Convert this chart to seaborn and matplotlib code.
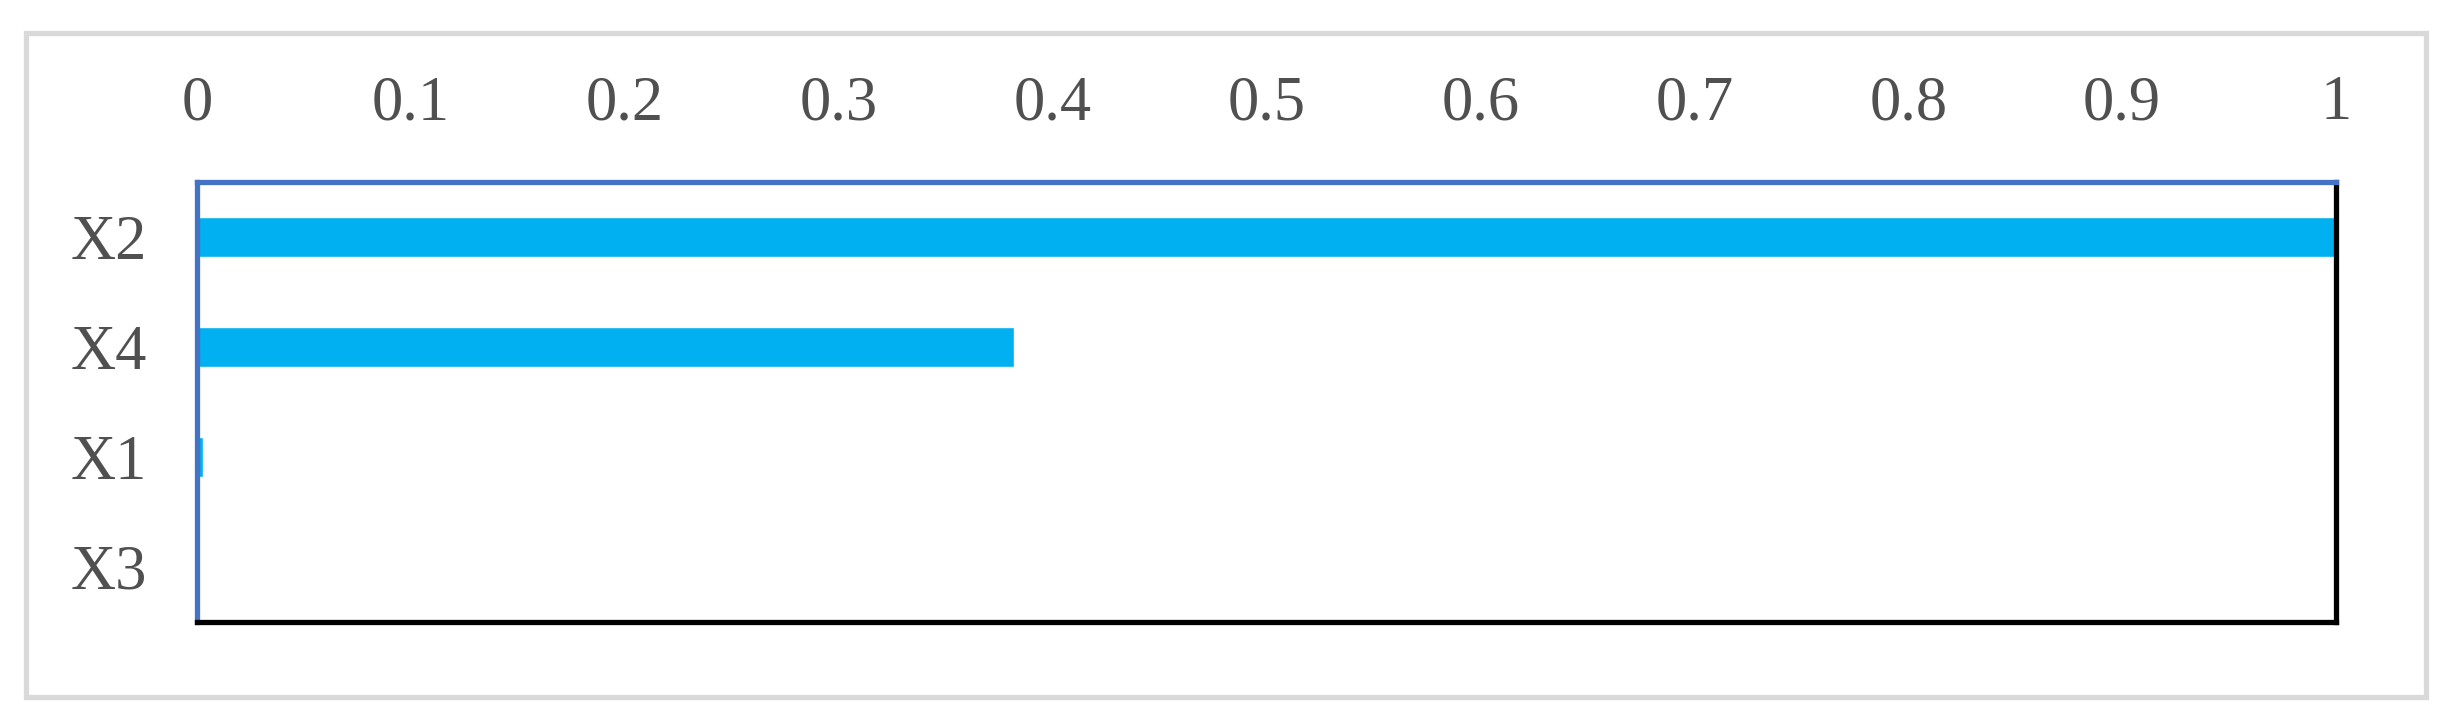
import matplotlib
matplotlib.use("Agg")
import matplotlib.pyplot as plt
from matplotlib.patches import Rectangle
import pandas as pd
import seaborn as sns

# values
features = ["X2", "X4", "X1", "X3"]
importance = [1.0, 0.382, 0.003, 0.0]
x_ticks = [0, 0.1, 0.2, 0.3, 0.4, 0.5, 0.6, 0.7, 0.8, 0.9, 1]
x_tick_labels = ["0", "0.1", "0.2", "0.3", "0.4", "0.5", "0.6", "0.7", "0.8", "0.9", "1"]

bar_color = "#00B0F0"
text_color = "#505050"

sns.set_style("white")
plt.rcParams["font.family"] = ["Liberation Serif", "DejaVu Serif"]

df = pd.DataFrame({"feature": features, "importance": importance})

fig = plt.figure(figsize=(24.53, 7.23), dpi=100)
ax = fig.add_axes([0.0803, 0.1397, 0.8720, 0.6086])

sns.barplot(data=df, x="importance", y="feature", orient="h", color=bar_color,
            width=0.36, saturation=1, ax=ax)

ax.set_xlim(0, 1)
ax.set_ylim(3.5, -0.5)
ax.set_xticks(x_ticks)
ax.set_xticklabels(x_tick_labels)
ax.xaxis.tick_top()
ax.tick_params(axis="both", length=0, labelsize=45, labelcolor=text_color)
ax.tick_params(axis="x", pad=35)
ax.tick_params(axis="y", pad=36)
ax.set_xlabel("")
ax.set_ylabel("")

for side in ["left", "top"]:
    ax.spines[side].set_color("#4472C4")
    ax.spines[side].set_linewidth(3.8)
for side in ["right", "bottom"]:
    ax.spines[side].set_color("black")
    ax.spines[side].set_linewidth(3.8)

# light grey chart border
fig.patches.append(Rectangle((0.0108, 0.0353), 0.9782, 0.9197, transform=fig.transFigure,
                             fill=False, edgecolor="#D9D9D9", linewidth=3.8))

fig.savefig("out.png", dpi=100, facecolor="white")
